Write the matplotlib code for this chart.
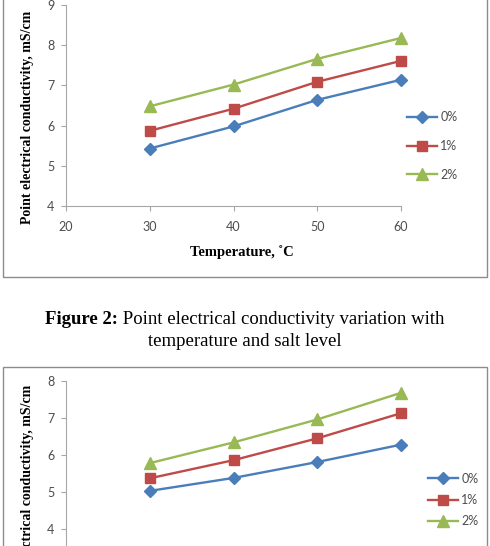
import matplotlib.pyplot as plt
from matplotlib.patches import Rectangle

W, H = 490, 546  # tamaño en pixeles

# datos
temperatura = [30, 40, 50, 60]
niveles = ['0%', '1%', '2%']
fig2_0 = [5.43, 5.98, 6.64, 7.14]
fig2_1 = [5.87, 6.42, 7.09, 7.61]
fig2_2 = [6.48, 7.02, 7.66, 8.18]
fig3_0 = [5.03, 5.38, 5.81, 6.28]
fig3_1 = [5.37, 5.86, 6.45, 7.13]
fig3_2 = [5.78, 6.34, 6.96, 7.68]

colores = ['#4A7EBB', '#BE4B48', '#98B954']
marcas = [('D', 6), ('s', 7), ('^', 8)]
gris = '#A6A6A6'
texto = '#4D4D4D'
serif = 'Liberation Serif'
sans = 'Lato'


def caja(x0, y0, x1, y1):  # pixeles -> fraccion de figura
    return [x0 / W, 1 - y1 / H, (x1 - x0) / W, (y1 - y0) / H]


def px(x, y):
    return x / W, 1 - y / H


def grafico(ax, series, ymin, ymax, leg_x, leg_y, espacio, etiquetas_x=True):
    for s, lab, c, (m, ms) in zip(series, niveles, colores, marcas):
        ax.plot(temperatura, s, color=c, lw=1.7, marker=m, markersize=ms,
                markerfacecolor=c, markeredgecolor=c, label=lab, clip_on=False)
    ax.set_xlim(20, 60)
    ax.set_ylim(ymin, ymax)
    ax.set_xticks([20, 30, 40, 50, 60])
    ax.set_yticks(range(ymin if etiquetas_x else ymin + 1, ymax + 1))
    for side in ['top', 'right']:
        ax.spines[side].set_visible(False)
    for side in ['left', 'bottom']:
        ax.spines[side].set_color(gris)
        ax.spines[side].set_linewidth(0.8)
    ax.tick_params(axis='both', colors=gris, labelcolor=texto, length=3.5,
                   width=0.8, labelsize=9)
    ax.tick_params(axis='x', pad=7, labelbottom=etiquetas_x)
    ax.tick_params(axis='y', pad=5)
    for t in ax.get_xticklabels() + ax.get_yticklabels():
        t.set_family(sans)
    ax.patch.set_alpha(0)
    ax.legend(loc='center left', bbox_to_anchor=px(leg_x, leg_y),
              bbox_transform=fig.transFigure, frameon=False, numpoints=1,
              handlelength=2.4, handletextpad=0.25, borderpad=0,
              borderaxespad=0, labelspacing=espacio,
              prop={'family': sans, 'size': 9}, labelcolor=texto)


fig = plt.figure(figsize=(W / 100, H / 100), dpi=100)

# marcos de las figuras
fig.patches.append(Rectangle(px(3, 277), 484 / W, 300 / H, transform=fig.transFigure,
                             fill=False, ec='#8c8c8c', lw=1))
fig.patches.append(Rectangle(px(3, 620), 484 / W, 253 / H, transform=fig.transFigure,
                             fill=False, ec='#8c8c8c', lw=1))

ax1 = fig.add_axes(caja(66, 5, 401, 206))
grafico(ax1, [fig2_0, fig2_1, fig2_2], 4, 9, 407, 146, 1.35)
fig.text(*px(28, 117), 'Point electrical conductivity, mS/cm', rotation=90,
         ha='center', va='center', family=serif, weight='bold', size=10)
fig.text(*px(242, 252), 'Temperature, \u02daC', ha='center', va='center',
         family=serif, weight='bold', size=10.5)

# titulo de la figura: parte en negrita seguida del texto normal
r = fig.canvas.get_renderer()
t1 = fig.text(0, 0, 'Figure 2:', family=serif, weight='bold', size=13.5)
t2 = fig.text(0, 0, ' Point electrical conductivity variation with', family=serif,
              size=13.5)
w1 = t1.get_window_extent(r).width
w2 = t2.get_window_extent(r).width
x0 = 245 - (w1 + w2) / 2
t1.set_position(px(x0, 319))
t2.set_position(px(x0 + w1, 319))
t1.set_va('center')
t2.set_va('center')
fig.text(*px(245, 342), 'temperature and salt level', ha='center', va='center',
         family=serif, size=13.5)

ax2 = fig.add_axes(caja(66, 381, 401, 566))
grafico(ax2, [fig3_0, fig3_1, fig3_2], 3, 8, 428, 500, 0.75, etiquetas_x=False)
# la etiqueta sale cortada por abajo, como en la pagina original
fig.text(*px(28, 491), 'Point electrical conductivity, mS/cm', rotation=90,
         ha='center', va='center', family=serif, weight='bold', size=10)

fig.savefig('out.png', dpi=100)
